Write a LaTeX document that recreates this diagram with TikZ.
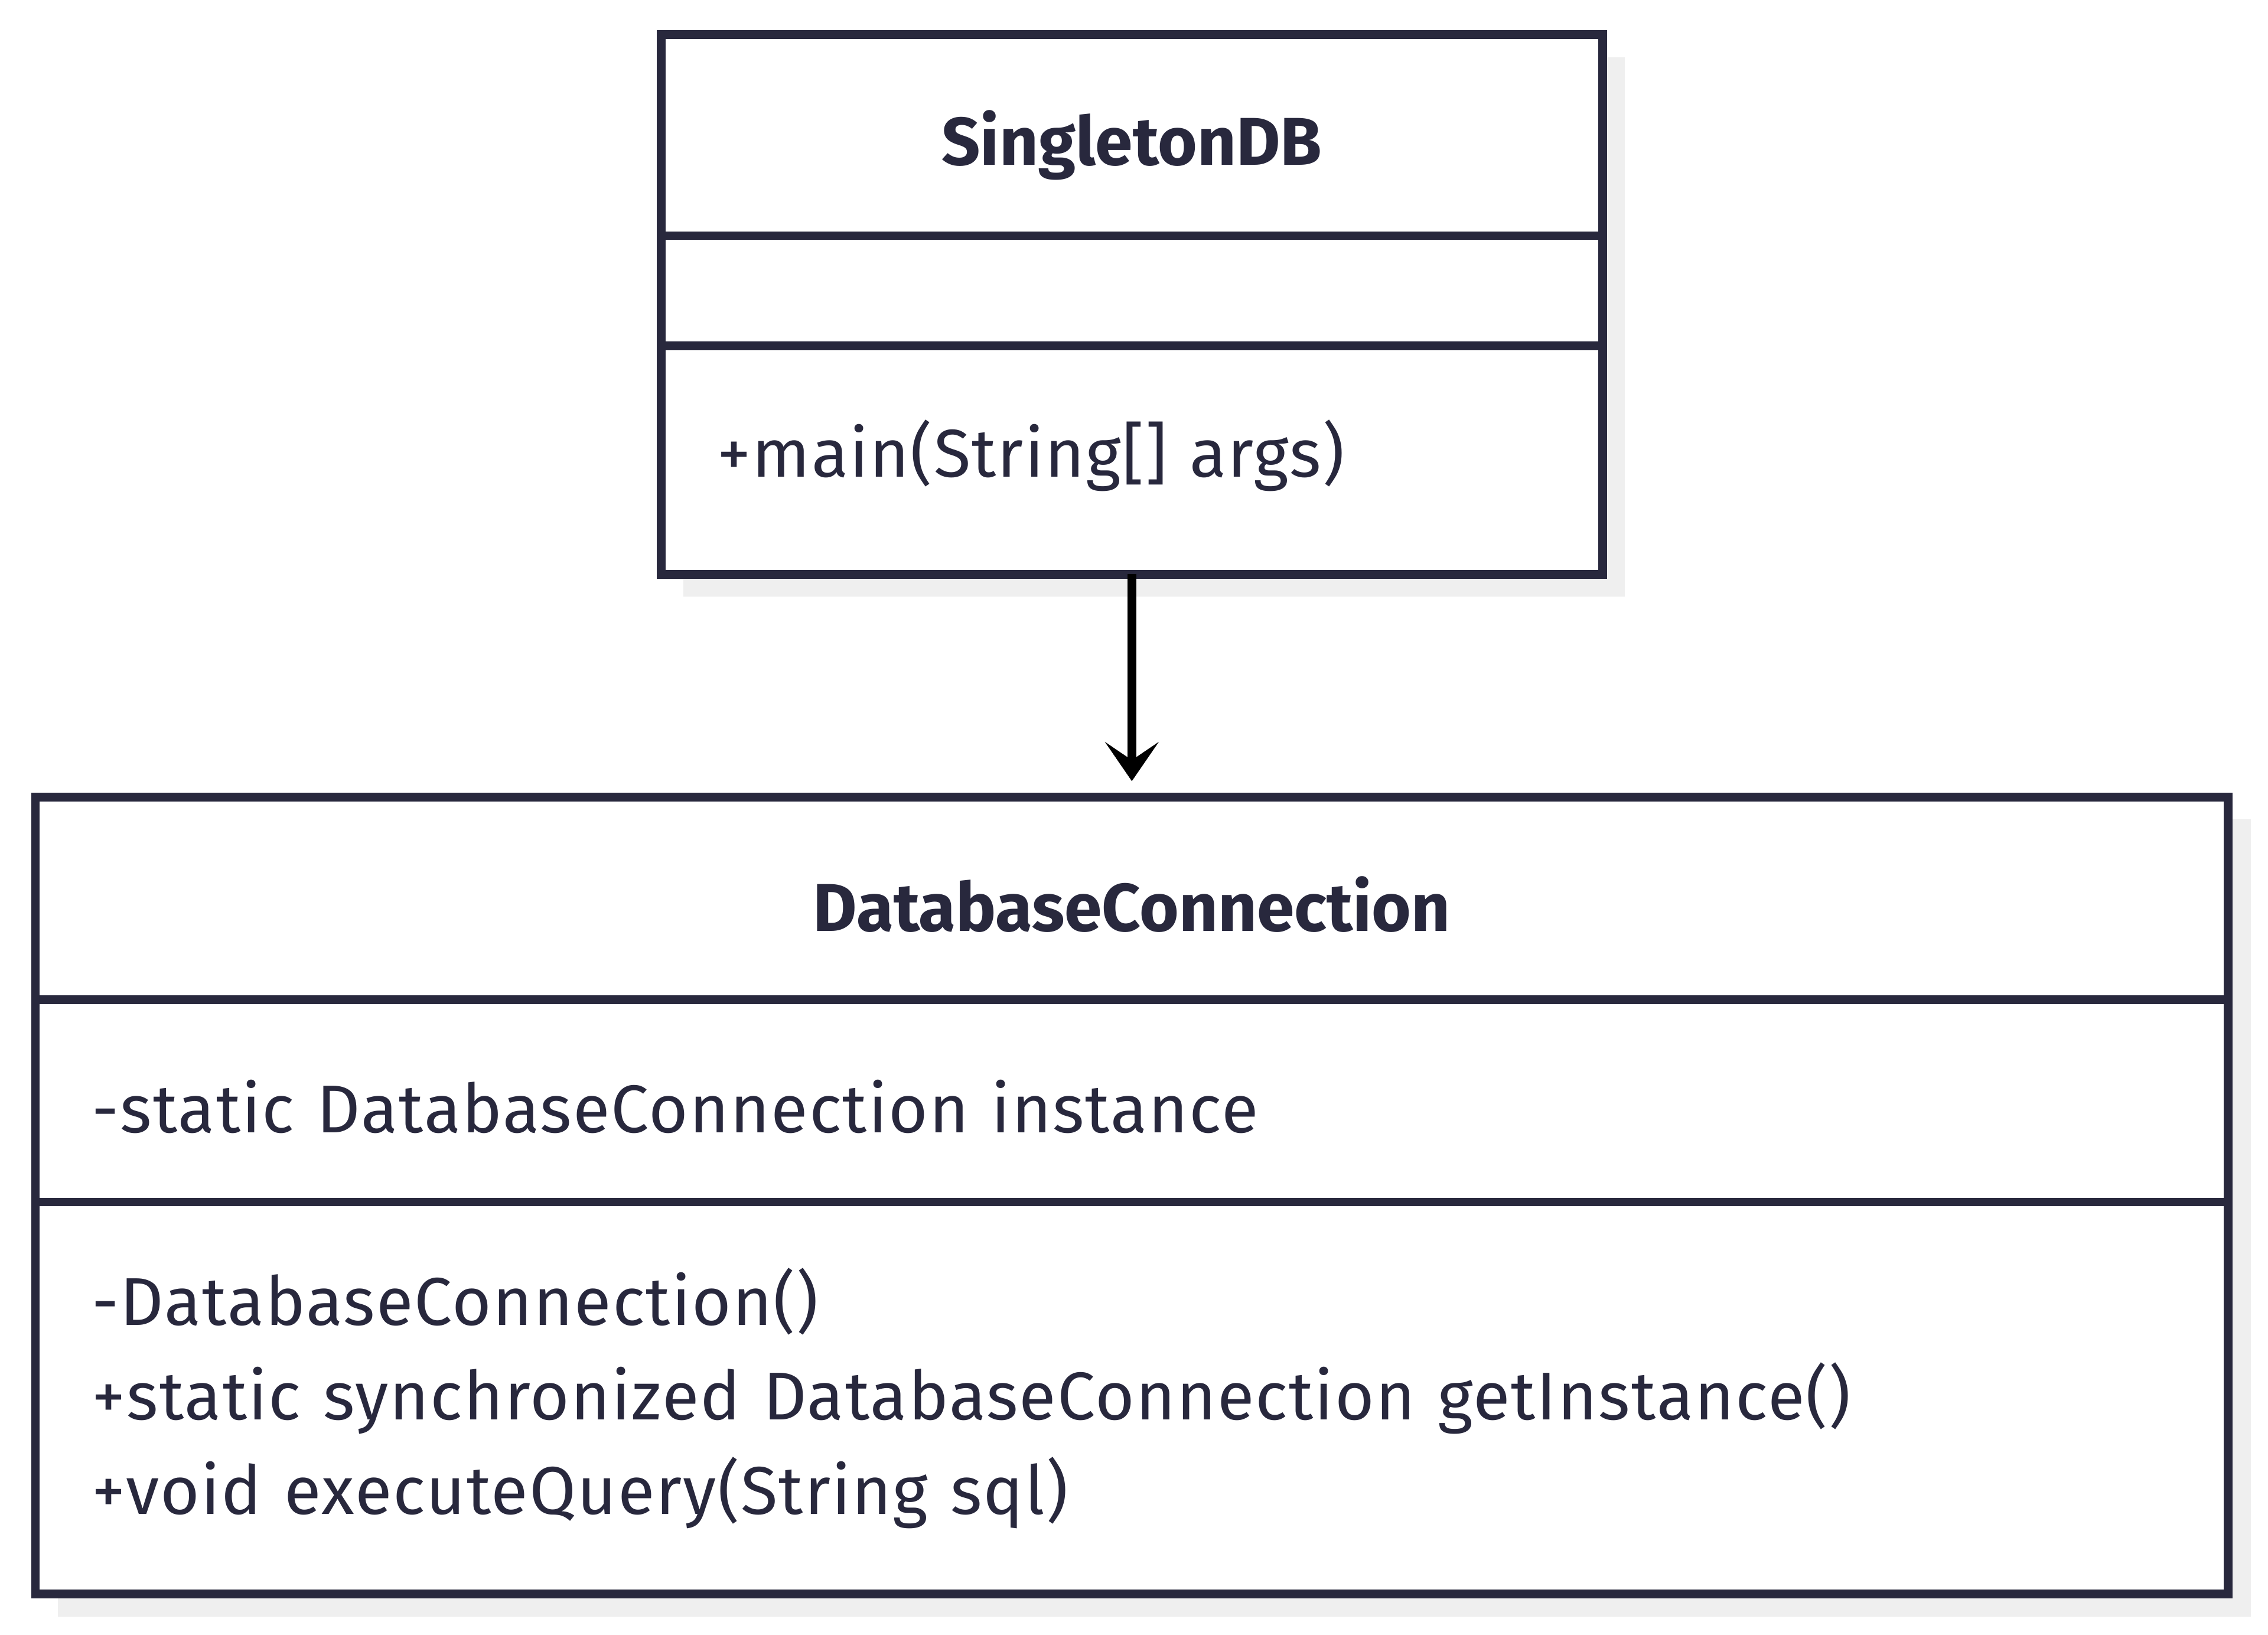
\documentclass[tikz,border=0pt]{standalone}
\usepackage{fontspec}
\setmainfont{Fira Sans}[LetterSpace=1.8, BoldFeatures={LetterSpace=0}]
\usetikzlibrary{positioning,arrows.meta,backgrounds}

\definecolor{lineclr}{RGB}{40,40,61}
\definecolor{shadowclr}{RGB}{239,239,239}
\newcommand{\lowered}[2]{\raisebox{-#1}[\height][\depth]{#2}}

\begin{document}
\begin{tikzpicture}[
  node distance=0pt,
  part/.style={draw=lineclr, line width=1.7pt, fill=white, outer sep=0pt, inner sep=0pt, text=lineclr, font=\fontsize{13.3}{18.6}\selectfont},
  head/.style={part, font=\fontsize{13.3}{18.6}\selectfont\bfseries, minimum height=1.39cm},
  body/.style={part, align=left, inner xsep=3.9mm},
  arr/.style={-{Stealth[length=2.7mm, width=3.7mm, inset=1.25mm]}, line width=1.7pt, black, shorten >=1.1mm}
]
  \useasboundingbox (0,0) rectangle (15.68,-11.30);

  % SingletonDB class
  \node[head, minimum width=6.51cm] (sgname) at (7.825,-0.935) {\lowered{0.7mm}{SingletonDB}};
  \node[part, below=of sgname, minimum width=6.51cm, minimum height=0.76cm] (sgattr) {};
  \node[body, below=of sgattr, text width=5.73cm, minimum height=1.58cm] (sgops) {\lowered{-0.3mm}{+main(String[] args)}};

  % DatabaseConnection class
  \node[head, below=1.54cm of sgops, minimum width=15.16cm, minimum height=1.40cm] (dbname) {\lowered{0.4mm}{DatabaseConnection}};
  \node[body, below=of dbname, text width=14.38cm, minimum height=1.40cm] (dbattr) {\lowered{0.4mm}{-static DatabaseConnection instance}};
  \node[body, below=of dbattr, text width=14.38cm, minimum height=2.71cm] (dbops) {-DatabaseConnection()\\+static synchronized DatabaseConnection getInstance()\\+void executeQuery(String sql)};

  \begin{scope}[on background layer]
    \fill[shadowclr] ([xshift=1.55mm, yshift=-1.55mm]sgname.north west) rectangle ([xshift=1.55mm, yshift=-1.55mm]sgops.south east);
    \fill[shadowclr] ([xshift=1.55mm, yshift=-1.55mm]dbname.north west) rectangle ([xshift=1.55mm, yshift=-1.55mm]dbops.south east);
  \end{scope}

  \draw[arr] (sgops) -- (dbname);
\end{tikzpicture}
\end{document}
